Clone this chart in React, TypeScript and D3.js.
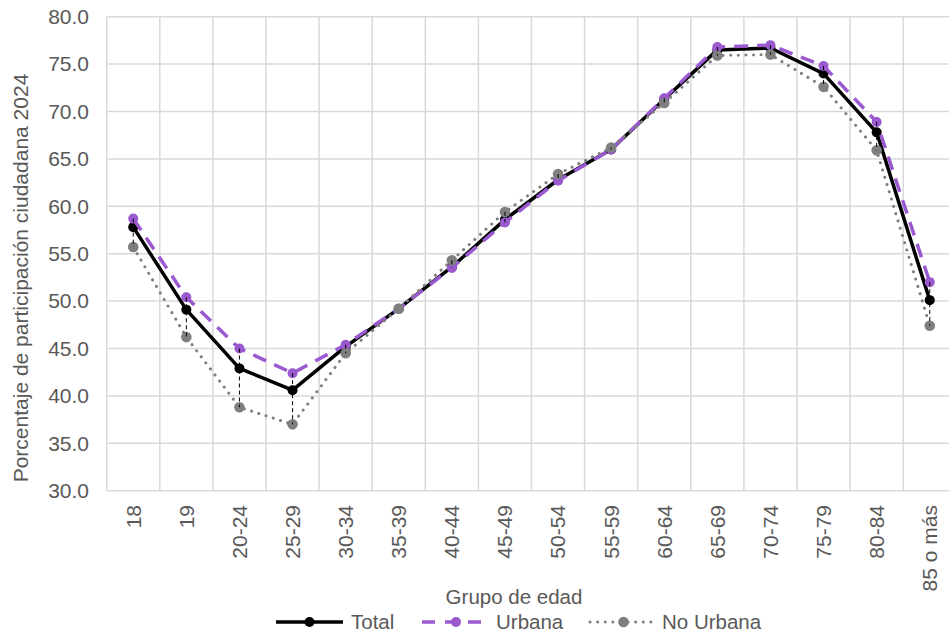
import React from "react";
import * as d3 from "d3";

const categories = ["18", "19", "20-24", "25-29", "30-34", "35-39", "40-44", "45-49", "50-54", "55-59", "60-64", "65-69", "70-74", "75-79", "80-84", "85 o más"];
const totalValues = [57.8, 49.1, 42.9, 40.6, 45.2, 49.2, 53.6, 58.6, 62.8, 66.0, 71.3, 76.5, 76.7, 74.0, 67.8, 50.1];
const urbanaValues = [58.7, 50.4, 45.0, 42.4, 45.4, 49.2, 53.5, 58.3, 62.7, 66.0, 71.4, 76.8, 77.0, 74.8, 68.9, 52.0];
const noUrbanaValues = [55.7, 46.2, 38.8, 37.0, 44.5, 49.2, 54.3, 59.4, 63.4, 66.2, 70.9, 75.9, 76.0, 72.6, 65.9, 47.4];
const yTicks = [30, 35, 40, 45, 50, 55, 60, 65, 70, 75, 80];

const W = 949;
const H = 635;
const left = 106.7;
const top = 16.7;
const bottom = 490.7;
const bandW = 53.1;
const right = left + bandW * categories.length;
const FONT = "'Liberation Sans', Arial, sans-serif";
const TXT = "#595959";
const PURPLE = "#9b59d0";
const GRAY = "#7f7f7f";

export default function App() {
  const x = d3.scaleBand<string>().domain(categories).range([left, right]).padding(0);
  const y = d3.scaleLinear().domain([30, 80]).range([bottom, top]);
  const cx = (c: string) => (x(c) as number) + x.bandwidth() / 2;
  const line = d3
    .line<number>()
    .x((_, i) => cx(categories[i]))
    .y((d) => y(d));

  const series = [
    { name: "Total", values: totalValues, color: "#000000", width: 3.5, dash: undefined as string | undefined, cap: "butt", r: 5 },
    { name: "Urbana", values: urbanaValues, color: PURPLE, width: 3.5, dash: "14 9", cap: "butt", r: 5 },
    { name: "No Urbana", values: noUrbanaValues, color: GRAY, width: 3, dash: "0.1 7.5", cap: "round", r: 5.3 },
  ];

  const legendItems = [
    { s: series[0], x0: 276, x1: 343, tx: 351 },
    { s: series[1], x0: 422, x1: 490, tx: 496 },
    { s: series[2], x0: 590, x1: 657, tx: 662 },
  ];

  return (
    <div style={{ position: "fixed", left: 0, top: 0 }}>
      <svg width={W} height={H} style={{ display: "block", background: "#fff" }}>
        <rect width={W} height={H} fill="#fff" />
        {/* gridlines */}
        {yTicks.map((t) => (
          <line key={"h" + t} x1={left} x2={right} y1={y(t)} y2={y(t)} stroke="#d9d9d9" strokeWidth={1.5} />
        ))}
        {categories.map((c) => (
          <line key={"v" + c} x1={x(c)} x2={x(c)} y1={top} y2={bottom} stroke="#d9d9d9" strokeWidth={1.5} />
        ))}
        <line x1={right} x2={right} y1={top} y2={bottom} stroke="#d9d9d9" strokeWidth={1.5} />
        {/* y tick labels */}
        {yTicks.map((t) => (
          <text key={"yt" + t} x={89} y={y(t)} dy="0.35em" textAnchor="end" fontFamily={FONT} fontSize={21} fill={TXT}>
            {d3.format(".1f")(t)}
          </text>
        ))}
        {/* x tick labels */}
        {categories.map((c) => (
          <text
            key={"xt" + c}
            transform={`translate(${cx(c)},${505}) rotate(-90)`}
            dy="0.35em"
            textAnchor="end"
            fontFamily={FONT}
            fontSize={21}
            fill={TXT}
          >
            {c}
          </text>
        ))}
        {/* axis titles */}
        <text x={514} y={597} dy="0.35em" textAnchor="middle" fontFamily={FONT} fontSize={20.5} fill={TXT}>
          Grupo de edad
        </text>
        <text
          transform={`translate(${20.5},${278}) rotate(-90)`}
          dy="0.35em"
          textAnchor="middle"
          fontFamily={FONT}
          fontSize={21}
          fill={TXT}
        >
          Porcentaje de participación ciudadana 2024
        </text>
        {/* series */}
        {series.map((s) => (
          <g key={s.name}>
            <path
              d={line(s.values) as string}
              fill="none"
              stroke={s.color}
              strokeWidth={s.width}
              strokeDasharray={s.dash}
              strokeLinecap={s.cap as any}
              strokeLinejoin="round"
            />
            {s.values.map((v, i) => (
              <circle key={i} cx={cx(categories[i])} cy={y(v)} r={s.r} fill={s.color} />
            ))}
          </g>
        ))}
        {/* drop (high-low) lines */}
        {categories.map((c, i) => {
          const vals = [totalValues[i], urbanaValues[i], noUrbanaValues[i]];
          return (
            <line
              key={"hl" + c}
              x1={cx(c)}
              x2={cx(c)}
              y1={y(d3.max(vals) as number)}
              y2={y(d3.min(vals) as number)}
              stroke="#000"
              strokeWidth={1}
              strokeDasharray="4 3"
            />
          );
        })}
        {/* legend */}
        {legendItems.map(({ s, x0, x1, tx }) => (
          <g key={"lg" + s.name}>
            <line
              x1={x0}
              x2={x1}
              y1={622}
              y2={622}
              stroke={s.color}
              strokeWidth={s.width}
              strokeDasharray={s.name === "Urbana" ? "13 10" : s.dash}
              strokeLinecap={s.cap as any}
            />
            <circle cx={(x0 + x1) / 2} cy={622} r={s.r} fill={s.color} />
            <text x={tx} y={622} dy="0.35em" fontFamily={FONT} fontSize={20.5} fill={TXT}>
              {s.name}
            </text>
          </g>
        ))}
      </svg>
    </div>
  );
}
